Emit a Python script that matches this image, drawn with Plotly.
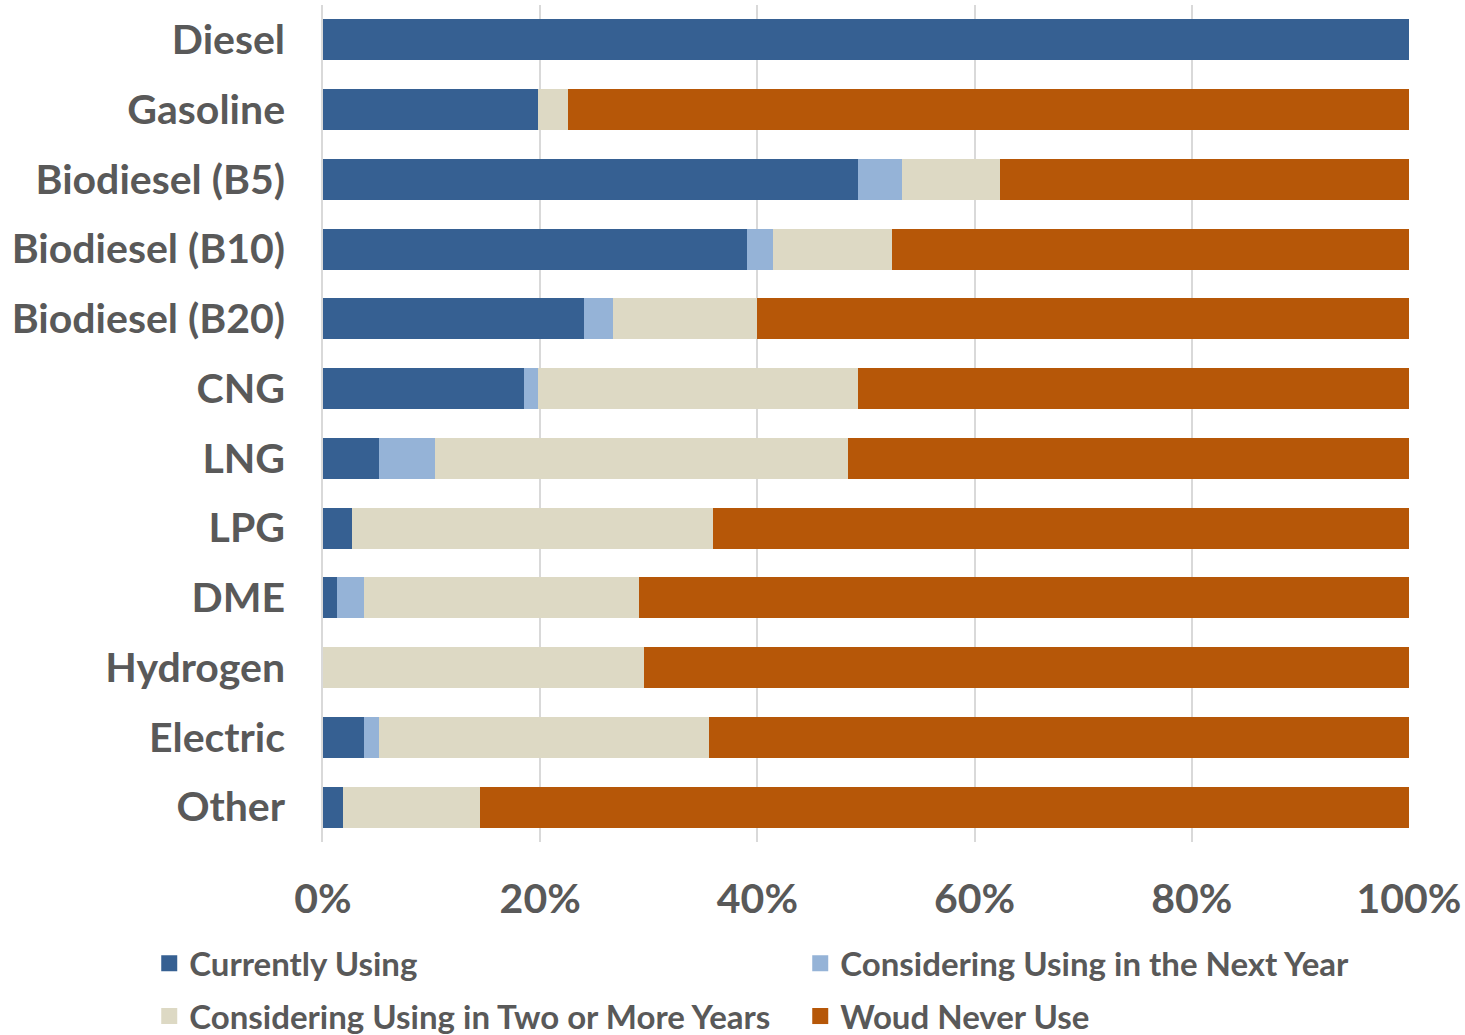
import plotly.graph_objects as go

fuels = ["Diesel", "Gasoline", "Biodiesel (B5)", "Biodiesel (B10)", "Biodiesel (B20)",
         "CNG", "LNG", "LPG", "DME", "Hydrogen", "Electric", "Other"]

currently_using = [100.0, 19.8, 49.3, 39.0, 24.0, 18.5, 5.2, 2.7, 1.3, 0.0, 3.8, 1.8]
next_year = [0.0, 0.0, 4.0, 2.4, 2.7, 1.3, 5.1, 0.0, 2.5, 0.0, 1.4, 0.0]
two_or_more_years = [0.0, 2.8, 9.0, 11.0, 13.3, 29.5, 38.0, 33.2, 25.3, 29.6, 30.3, 12.7]
never_use = [0.0, 77.4, 37.7, 47.6, 60.0, 50.7, 51.7, 64.1, 70.9, 70.4, 64.5, 85.5]

series = [
    ("Currently Using", currently_using, "#366092"),
    ("Considering Using in the Next Year", next_year, "#95B3D7"),
    ("Considering Using in Two or More Years", two_or_more_years, "#DDD9C4"),
    ("Woud Never Use", never_use, "#B65708"),
]

tick_vals = [0, 20, 40, 60, 80, 100]
tick_text = ["0%", "20%", "40%", "60%", "80%", "100%"]

FONT = "Lato, Noto Sans, sans-serif"
TEXT = "#595959"

fig = go.Figure()
for name, vals, color in series:
    fig.add_trace(go.Bar(
        y=fuels, x=vals, name=name, orientation="h",
        marker=dict(color=color, line=dict(width=0)),
        showlegend=False,
    ))
# legend entries with larger square swatches, two per row
for i, (name, vals, color) in enumerate(series):
    fig.add_trace(go.Scatter(
        x=[None], y=[None], mode="markers", name=name,
        marker=dict(symbol="square", size=20, color=color),
        showlegend=True, hoverinfo="skip",
        legend="legend" if i < 2 else "legend2",
    ))

legend_style = dict(
    orientation="h", traceorder="normal",
    x=-0.16, xanchor="left", yanchor="middle",
    entrywidth=606, entrywidthmode="pixels",
    font=dict(family=FONT, size=33, color=TEXT, weight="bold"),
    itemwidth=30, tracegroupgap=0, bgcolor="rgba(0,0,0,0)",
)

fig.update_layout(
    width=1465, height=1035,
    barmode="stack", bargap=0.41,
    plot_bgcolor="white", paper_bgcolor="white",
    margin=dict(l=323, r=56, t=5, b=193, autoexpand=False),
    font=dict(family=FONT, color=TEXT),
    showlegend=True,
    legend=dict(legend_style, y=-0.145),
    legend2=dict(legend_style, y=-0.208),
)

fig.update_xaxes(
    range=[0, 100], tickvals=tick_vals, ticktext=tick_text,
    showgrid=True, gridcolor="#D9D9D9", gridwidth=1.5,
    zeroline=False, showline=False, automargin=False,
    ticks="outside", ticklen=21, tickcolor="rgba(0,0,0,0)",
    ticklabeloverflow="allow",
    tickfont=dict(family=FONT, size=41, color=TEXT, weight="bold"),
)
fig.update_yaxes(
    categoryorder="array", categoryarray=fuels, autorange="reversed",
    showline=True, linecolor="#D9D9D9", linewidth=1.5,
    showgrid=False, zeroline=False, automargin=False,
    ticks="outside", ticklen=28, tickcolor="rgba(0,0,0,0)",
    tickfont=dict(family=FONT, size=41, color=TEXT, weight="bold"),
)

fig.write_html("out.html")
